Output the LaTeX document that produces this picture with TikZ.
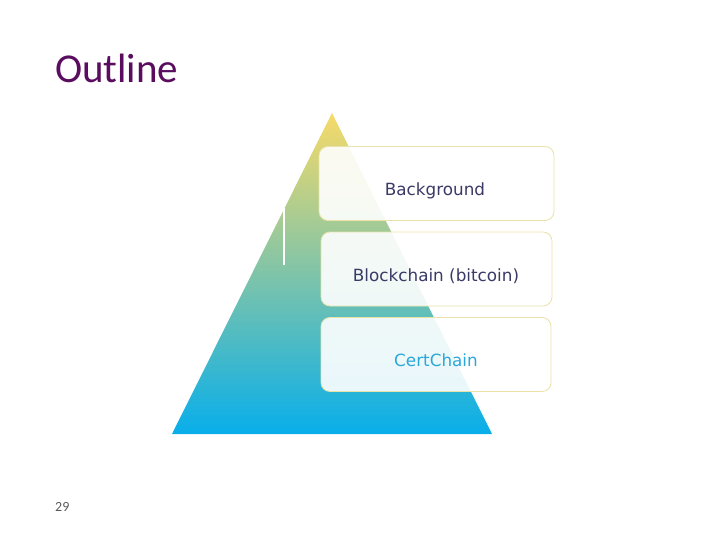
\documentclass[tikz,border=0pt]{standalone}
\usepackage{fontspec}
\setmainfont{DejaVu Sans}
\newfontfamily\titlefont{Carlito}
\usetikzlibrary{positioning}
\definecolor{titlepurple}{HTML}{5A0C5E}
\definecolor{pyrtop}{HTML}{F6DA68}
\definecolor{pyrbot}{HTML}{08AEEA}
\definecolor{boxedge}{HTML}{EAE2A8}
\definecolor{navytext}{HTML}{3A3A66}
\definecolor{cyantext}{HTML}{2BA7D9}
\definecolor{pagegrey}{HTML}{595959}
\tikzset{
  levelbox/.style={draw=boxedge, line width=0.8pt, rounded corners=9pt, fill=white, fill opacity=0.9, minimum width=#1, minimum height=74pt, inner sep=0pt},
  leveltext/.style={font=\fontsize{16.8}{19}\selectfont, anchor=base, inner sep=0pt},
}
\begin{document}
\begin{tikzpicture}[x=1pt,y=-1pt]
\useasboundingbox (0,0) rectangle (720,540);
% title
\node[anchor=base west, inner sep=0pt, text=titlepurple, font=\titlefont\fontsize{41}{45}\selectfont] (title) at (55,83) {Outline};
% pyramid
\coordinate (apex) at (332,113);
\coordinate (bl) at (172,434);
\coordinate (br) at (492,434);
\shade[top color=pyrtop, bottom color=pyrbot] (apex) -- (br) -- (bl) -- cycle;
\draw[white, line width=1.2pt] (284,208) -- (284,265);
% boxes
\node[levelbox=235pt] (b1) at (436.5,183.5) {};
\node[levelbox=231pt] (b2) at (436.5,269) {};
\node[levelbox=230pt] (b3) at (436,354.5) {};
\node[leveltext, text=navytext] (t1) at (435,196) {Background};
\node[leveltext, text=navytext] (t2) at (436,281) {Blockchain (bitcoin)};
\node[leveltext, text=cyantext] (t3) at (436,366) {CertChain};
% page number
\node[anchor=base west, inner sep=0pt, text=pagegrey, font=\titlefont\fontsize{14}{16}\selectfont] (pg) at (55,511) {29};
\end{tikzpicture}
\end{document}
